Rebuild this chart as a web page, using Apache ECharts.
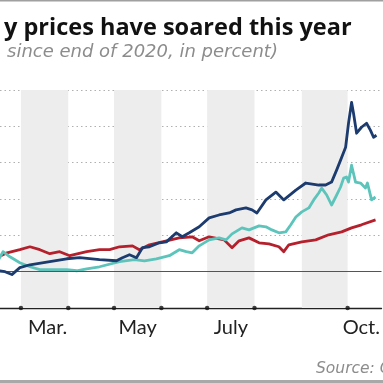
<!DOCTYPE html>
<html>
<head>
<meta charset="utf-8">
<script src="https://cdn.jsdelivr.net/npm/echarts@6/dist/echarts.min.js"></script>
<style>
html,body{margin:0;padding:0;background:#fff;}
#c{width:383px;height:383px;}
</style>
</head>
<body>
<div id="c"></div>
<script>
// x values are day-of-year 2021 (Jan 1 = 0)
const navyDays = [44,48.6,53.1,58.3,64.9,77.9,89,97.5,110.5,121.6,125.5,130.1,134.7,138.6,143.2,149.7,154.3,160.8,164.7,169.3,175.8,182.3,188.8,195.4,199.9,206.4,210.4,213.6,219.5,226,231.2,239.1,245.6,254.1,258.6,262.5,265.8,268.4,271.7,273.6,275.6,276.9,278.9,282.1,285.4,288,290,291.9];
const navyVals = [0.5,0,-1.6,2.2,3.8,5.5,7.1,7.7,6.6,6,7.7,9.3,7.7,13.2,13.7,15.9,16.4,21.4,19.2,21.4,24.7,29.6,31.2,32.3,34,35.1,34,32.3,39.5,43.8,39.5,44.9,48.8,47.7,47.7,49.3,55.9,61.4,68.5,81.7,93.2,87.1,76.2,79.5,81.7,77.8,74,75.1];

const redDays = [44,49.9,58.3,64.9,71.4,77.9,84.4,91,102.1,110.5,117.1,123.6,132.1,136.6,143.2,151.6,162.7,171.2,175.8,182.3,185.6,192.1,197.3,201.9,208.4,215,221.5,228,231.2,234.5,243,252.1,260.6,269.1,275.6,282.1,291.3];
const redVals = [8,10.4,12.1,13.7,12.1,9.9,11,8.8,11,12.1,12.1,13.7,14.2,12.1,14.8,16.4,18.6,19.2,17,19.2,18.6,17.5,13.2,17,18.6,15.9,15.3,13.7,11,14.8,16.4,17.5,20.3,21.9,24.1,25.8,28.5];

const tealDays = [44,47.3,51.8,58.3,64.9,71.4,79.9,89,95.5,102.1,110.5,123.6,133.4,139.9,147.7,156.2,162.7,167.3,171.2,175.8,182.3,188.8,193.4,197.3,203.8,208.4,215,219.5,223.4,228,232.5,235.8,239.1,243,247.6,250.8,254.1,256,259.3,262.5,265.2,268.4,270.4,272.3,273.6,275.6,278.2,281.5,284.7,286,288.7,291.3];
const tealVals = [6,11,8.2,4.9,2.7,1.1,1.1,1.1,0.5,1.6,2.7,5.5,6.6,6,7.1,8.8,12.1,11,10.4,14.2,17.5,18.6,17.5,20.8,24.1,23,25.2,24.7,23,21.4,21.9,25.8,30.1,32.9,35.1,39.5,43.3,46,42.2,36.7,41.1,46.6,51.5,52.1,49.3,58.6,49.3,48.8,46,48.8,39.5,41.1];

// shaded alternate months (start day, end day)
const bandStarts = [0,59,120,181,243];
const bandEnds   = [31,90,151,212,273];
// month boundary tick dots
const tickDays = [59,90,120,151,181,212,273];
// month labels
const labelDays = [76.5,135.5,196.5,282];
const labelNames = ['Mar.','May','July','Oct.'];

const titleText = 'y prices have soared this year';
const subText = 'since end of 2020, in percent)';
const sourceText = 'Source: C';

function pairs(d,v){return d.map((x,i)=>[x,v[i]]);}

const chart = echarts.init(document.getElementById('c'), null, {renderer:'canvas'});
const FONT = 'Lato';
chart.setOption({
  animation:false,
  backgroundColor:'#fff',
  title:[
    {text:titleText,left:-1,top:11,textStyle:{fontFamily:'Open Sans',fontSize:23.5,fontWeight:'bold',color:'#111'}},
    {text:subText,left:2,top:38,textStyle:{fontFamily:'DejaVu Sans',fontSize:18,fontStyle:'italic',fontWeight:'normal',color:'#8c8c8c'}},
    {text:sourceText,left:311,top:356,textStyle:{fontFamily:'DejaVu Sans',fontSize:15.5,fontStyle:'italic',fontWeight:'normal',color:'#8c8c8c'}}
  ],
  graphic:[
    {type:'rect',shape:{x:0,y:0,width:383,height:1.5},style:{fill:'#a0a0a0'},silent:true},
    {type:'rect',shape:{x:0,y:380,width:383,height:3},style:{fill:'#a8a8a8'},silent:true}
  ],
  grid:{left:0,right:0,top:90,bottom:75,containLabel:false},
  xAxis:{
    type:'value',min:45.3,max:295.2,
    axisLine:{show:true,onZero:false,lineStyle:{color:'#222',width:1.3}},
    axisTick:{show:false},
    splitLine:{show:false},
    axisLabel:{
      customValues:labelDays,
      formatter:function(v){const i=labelDays.indexOf(v);return i>=0?labelNames[i]:'';},
      fontFamily:FONT,fontSize:20,color:'#222',margin:10
    }
  },
  yAxis:{
    type:'value',min:-20,max:100,interval:20,
    axisLine:{show:false},axisTick:{show:false},axisLabel:{show:false},
    splitLine:{show:true,lineStyle:{color:'#b0b0b0',type:[1.5,3],width:1}}
  },
  series:[
    {type:'line',data:[],silent:true,z:1,
      markArea:{silent:true,itemStyle:{color:'#ededed'},
        data:bandStarts.map((s,i)=>[{xAxis:s},{xAxis:bandEnds[i]}])},
      markLine:{silent:true,symbol:'none',label:{show:false},
        lineStyle:{color:'#555',type:'solid',width:1.2},
        data:[{yAxis:0}]}
    },
    {name:'Red',type:'line',data:pairs(redDays,redVals),showSymbol:false,z:3,
      lineStyle:{color:'#b4202c',width:2.8,join:'round'}},
    {name:'Teal',type:'line',data:pairs(tealDays,tealVals),showSymbol:false,z:4,
      lineStyle:{color:'#5cc4bb',width:2.8,join:'round'}},
    {name:'Navy',type:'line',data:pairs(navyDays,navyVals),showSymbol:false,z:5,
      lineStyle:{color:'#1c3b6e',width:2.8,join:'round'}},
    {type:'scatter',data:tickDays.map(d=>[d,-20]),symbolSize:4.5,silent:true,clip:false,z:6,
      itemStyle:{color:'#111'}}
  ]
});
</script>
</body>
</html>
